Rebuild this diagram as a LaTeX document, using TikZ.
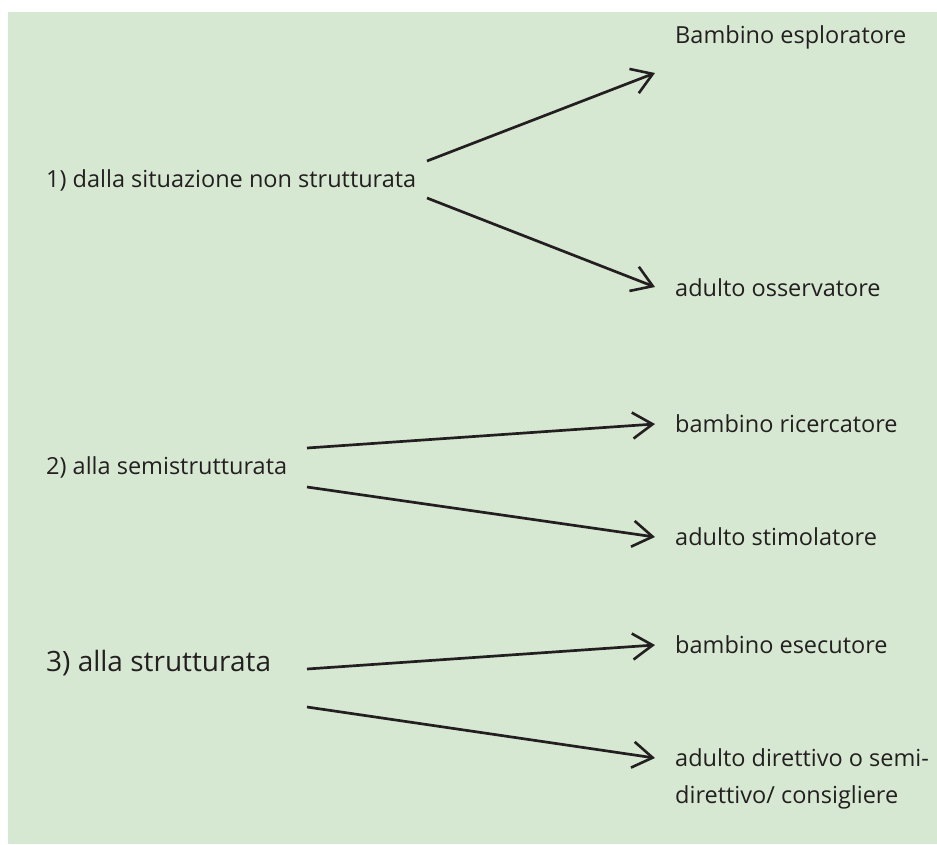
\documentclass[tikz,border=0pt]{standalone}
\usepackage{fontspec}
\setmainfont{Open Sans}
\usetikzlibrary{arrows.meta}
\definecolor{panel}{HTML}{D7E8D2}
\definecolor{ink}{HTML}{231F20}
\tikzset{
  lbl/.style={anchor=west, inner sep=0pt, text=ink, font=\fontsize{23.5}{37}\selectfont},
  biglbl/.style={lbl, font=\fontsize{28}{33}\selectfont},
  link/.style={draw=ink, line width=2.7pt, -{Straight Barb[length=20pt, width=26pt, line width=2.6pt]}}
}
\begin{document}
\begin{tikzpicture}[x=1pt, y=-1pt]
  \useasboundingbox (0,0) rectangle (937,844);
  \fill[panel] (8,12) rectangle (937,844);

  % left-hand stages
  \node[lbl] (s1) at (46,180) {1) dalla situazione non strutturata};
  \node[lbl] (s2) at (46,467) {2) alla semistrutturata};
  \node[biglbl] (s3) at (46,663) {3) alla strutturata};

  % right-hand roles
  \node[lbl] (r1) at (675,37) {Bambino esploratore};
  \node[lbl] (r2) at (675,288) {adulto osservatore};
  \node[lbl] (r3) at (675,424) {bambino ricercatore};
  \node[lbl] (r4) at (675,537) {adulto stimolatore};
  \node[lbl] (r5) at (675,645) {bambino esecutore};
  \node[lbl, align=left] (r6) at (675,779) {adulto direttivo o semi-\\direttivo/ consigliere};

  % start points beside each stage
  \coordinate (a1) at (427,161);
  \coordinate (b1) at (427,198);
  \coordinate (a2) at (307,448);
  \coordinate (b2) at (307,487);
  \coordinate (a3) at (307,669);
  \coordinate (b3) at (307,707);

  % end points in front of each role
  \coordinate (t1) at (655,73);
  \coordinate (t2) at (655,287);
  \coordinate (t3) at (655,424);
  \coordinate (t4) at (655,537);
  \coordinate (t5) at (655,645);
  \coordinate (t6) at (655,758);

  \draw[link] (a1) -- (t1);
  \draw[link] (b1) -- (t2);
  \draw[link] (a2) -- (t3);
  \draw[link] (b2) -- (t4);
  \draw[link] (a3) -- (t5);
  \draw[link] (b3) -- (t6);
\end{tikzpicture}
\end{document}
